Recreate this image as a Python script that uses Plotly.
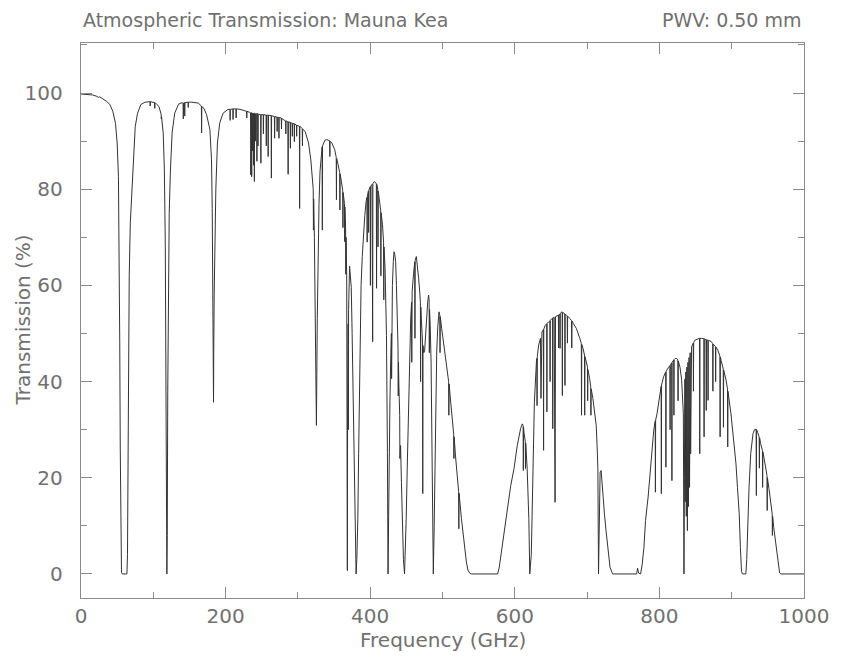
import plotly.graph_objects as go

# ---- Data: (frequency GHz, transmission %) ----
band_0_200 = [
    (0, 99.8), (8, 99.7), (16, 99.6), (22, 99.3), (24, 99.1), (26, 99.2), (30, 98.8), (35, 98.3),
    (40, 97.6), (44, 96.2), (47.7, 93.7), (50, 89.6), (51.8, 82.6), (52.8, 70), (53.6, 48),
    (54.3, 26), (55.2, 8), (56, 0.3), (57, 0), (63.5, 0), (64.3, 4), (65, 20), (65.8, 42),
    (66.7, 62), (68.2, 73), (70.5, 80.5), (72.3, 87.5), (75, 93), (78.2, 95.8), (82.8, 97.6),
    (88.7, 98.1), (95.4, 98.2), (95.7, 97.3), (96, 98.2), (101.6, 98.0), (102, 96.8), (102.4, 98.0),
    (105, 97.6), (107.8, 97.2), (110.8, 95.6), (111.1, 94.6), (111.4, 95.1), (113.7, 91.7),
    (115.3, 84), (116.6, 68), (117.6, 35), (118.3, 8), (118.75, 0), (119.3, 8), (120, 38),
    (121, 62), (122, 75), (123.7, 84), (126, 91.7), (129.6, 95.8), (135, 97.7), (140, 98.0),
    (141.2, 97.9), (141.5, 94.6), (141.8, 97.9), (143.2, 98.0), (143.5, 95.2), (143.8, 98.0),
    (148, 98.1), (148.3, 97.0), (148.6, 98.1), (153.2, 98.1), (158, 98.0), (162.3, 97.9),
    (166.5, 97.3), (166.8, 91.7), (167.1, 97.2), (170, 96.8), (173.7, 95.5), (178.3, 92.4),
    (180.5, 86.1), (181.5, 76), (182.5, 58), (183.0, 46), (183.3, 35.7), (183.6, 46), (184.2, 58),
    (185.2, 68), (186.5, 80), (188.7, 89.6), (191.9, 93.8), (196.5, 95.8), (200, 96.3),
]

band_200_380 = [
    (203.3, 96.6), (206, 96.6), (206.3, 94.3), (206.6, 96.6), (210, 96.7), (210.3, 94.5),
    (210.6, 96.7), (214.3, 96.7), (214.6, 94.8), (214.9, 96.7), (220, 96.6), (226, 96.4),
    (229, 96.2), (229.3, 94.8), (229.6, 96.2), (232.9, 96.0), (234.5, 95.9), (234.8, 83),
    (235.1, 95.9), (235.8, 95.9), (236.1, 82.6), (236.4, 95.9), (237, 95.8), (237.3, 88),
    (237.6, 95.8), (238.3, 95.8), (238.6, 85), (238.9, 95.8), (239.5, 95.8), (239.8, 81.6),
    (240.1, 95.8), (241, 95.7), (241.3, 90), (241.6, 95.7), (243, 95.7), (243.3, 85.8),
    (243.6, 95.7), (244.5, 95.7), (244.8, 89), (245.1, 95.6), (248.5, 95.5), (248.8, 85.4),
    (249.1, 95.5), (252, 95.5), (252.3, 91.5), (252.6, 95.5), (256, 95.4), (256.3, 89),
    (256.6, 95.4), (258.6, 95.4), (258.9, 86.8), (259.2, 95.4), (263, 95.3), (263.3, 82.3),
    (263.6, 95.3), (267.5, 95.1), (267.8, 90.6), (268.1, 95.1), (271, 95.0), (271.3, 92),
    (271.6, 95.0), (273.5, 94.9), (273.8, 90.6), (274.1, 94.9), (277, 94.8), (277.3, 92.5),
    (277.6, 94.7), (280.6, 94.4), (283, 94.2), (283.3, 91.5), (283.6, 94.2), (286.2, 94.0),
    (286.5, 83.1), (286.8, 94.0), (289.3, 93.9), (289.6, 88.5), (289.9, 93.9), (292, 93.7),
    (292.3, 91), (292.6, 93.7), (294.8, 93.6), (295.1, 89.9), (295.4, 93.6), (298, 93.3),
    (298.3, 91), (298.6, 93.3), (302.1, 93.1), (302.4, 76), (302.7, 93.1), (306, 92.6),
    (306.3, 89), (306.6, 92.5), (310.1, 92.0), (312.4, 91), (314.7, 89.6), (317.9, 86.1),
    (320.3, 82), (321.2, 80), (321.5, 71.5), (321.8, 78), (322.8, 70), (324.2, 53.1),
    (325.6, 30.9), (326.8, 53.1), (328.2, 70), (329.2, 77), (330.6, 83.7), (332.9, 88.5),
    (333.5, 88.8), (333.8, 71.5), (334.1, 89), (337.4, 90.2), (340, 90.3), (343.9, 90.1),
    (344.2, 86.8), (344.5, 90.0), (347, 89.6), (349, 88.9), (351, 88.2), (353.0, 86.6),
    (353.3, 77.8), (353.6, 86.4), (355.6, 85.1), (357.8, 83.5), (358.1, 75.7), (358.4, 83.2),
    (360.2, 81.6), (362, 79.7), (362.3, 72), (362.6, 79.3), (364.4, 77), (364.7, 69.1),
    (365, 76.3), (366, 72), (366.3, 62.3), (366.6, 70), (367.5, 62), (368.1, 30), (368.4, 0.7),
    (368.7, 30), (369.5, 52), (369.8, 30), (370.1, 55), (371.5, 64), (372.5, 62.5),
    (373.8, 59.6), (375, 50), (376.1, 39.2), (377.3, 25), (378.3, 11.5), (379.5, 3), (380.5, 0),
]

band_380_620 = [
    (381.5, 3), (382.9, 11.5), (384, 25), (385.2, 39.2), (387.4, 60), (389, 66), (390.6, 70.5),
    (392.5, 74.5), (394.3, 77.4), (395.5, 78.3), (395.8, 69), (396.1, 78.6), (397.5, 79.6),
    (397.8, 71), (398.1, 79.8), (400, 80.5), (400.3, 60), (400.6, 80.6), (402.5, 81),
    (402.8, 66), (403.1, 81), (403.4, 48.3), (403.7, 81.2), (405.6, 81.6), (407.9, 81.3),
    (408.5, 81.1), (408.8, 59.4), (409.1, 81), (410.5, 80), (410.8, 68), (411.1, 79.6),
    (412.4, 78.1), (414.5, 75.6), (414.8, 62), (415.1, 75.1), (417, 72.6), (418.5, 69),
    (418.8, 57), (419.1, 68), (420.6, 63.5), (422.5, 49.6), (423.8, 25.3), (424.7, 0),
    (425.5, 12), (426.1, 25.3), (427.3, 36), (428.4, 44.8), (429.3, 50), (429.6, 40.6),
    (429.9, 52), (430.7, 60), (432, 65), (432.9, 67), (434, 66.5), (435.2, 64.9), (436.3, 60),
    (437.5, 53.1), (438.5, 47), (438.8, 37), (439.1, 44), (439.7, 39.2), (440.8, 33),
    (441.1, 24), (441.4, 31), (442, 26.7), (443.2, 19), (444.3, 11.5), (446, 3), (447.5, 0),
    (448.6, 4), (449.8, 11.5), (451.2, 22), (452.5, 32.3), (454.3, 46.2), (456, 53),
    (457.2, 56.5), (457.5, 44), (457.8, 57), (458, 58.7), (460, 62.5), (461.6, 64.9),
    (461.9, 49), (462.2, 65.2), (463.8, 66), (465.2, 64.3), (467, 61.5), (468.8, 58),
    (469.4, 56.5), (469.7, 40), (470, 55.5), (470.7, 53.1), (471.8, 50), (472.4, 48),
    (472.7, 16.7), (473, 47.5), (474, 46), (475.2, 46.2), (476.8, 51), (478.4, 54.5),
    (479.5, 56.5), (480.7, 58), (481.5, 57), (481.8, 46), (482.1, 55), (483, 51.7),
    (484.2, 44), (485.3, 32.3), (486.3, 15), (487.3, 0), (488.5, 10), (489.8, 25.3), (491, 37),
    (492, 46.2), (493.5, 51.5), (495.2, 54.5), (496.3, 53.8), (496.6, 46), (496.9, 53.5),
    (498.9, 51), (501, 48.8), (503.4, 46.2), (505.5, 43.7), (508, 40.6), (508.5, 40),
    (508.8, 33), (509.1, 39.5), (511.5, 35.5), (514.8, 30.2), (515.5, 29), (515.8, 24),
    (516.1, 28.5), (518, 24.5), (521.6, 18.4), (522.3, 17.2), (522.6, 9.4), (522.9, 16.8),
    (526.2, 11.5), (528.5, 8), (530.7, 5.5), (533, 2.5), (535.2, 0.8), (538, 0.1), (539.8, 0),
    (576.2, 0), (578.3, 1.2), (580.7, 4), (585.3, 9.4), (589.8, 13.5), (594.4, 18.4),
    (598.9, 21.9), (603.4, 26.7), (606, 28.8), (608, 30.2), (610.3, 31.2), (611.5, 30.9),
    (611.8, 21.5), (612.1, 30.5), (612.6, 29.5), (614.5, 27.6), (614.8, 21.9), (615.1, 27.2),
    (617.1, 21.9), (619.4, 11.5), (620.7, 0),
]

band_620_1000 = [
    (622.8, 4), (623.9, 12), (625.3, 26), (626.5, 33), (627.1, 35.7), (629.9, 44.1),
    (630.5, 44.8), (630.8, 35), (631.1, 45.2), (633, 47.6), (635.5, 49), (636.2, 36.5),
    (636.8, 49.3), (637.5, 50.3), (639.5, 50.8), (639.8, 25.7), (640.1, 50.9), (642.1, 51.7),
    (644.1, 52), (644.4, 33.7), (644.7, 52.1), (646.7, 52.4), (648.5, 52.6), (648.8, 40),
    (649.1, 52.7), (651.2, 53.1), (652.2, 53.2), (652.5, 30.2), (652.8, 53.2), (654.5, 53.4),
    (654.8, 42), (655.1, 53.4), (655.7, 14.9), (656.3, 53.5), (658, 53.6), (660.3, 53.8),
    (660.6, 47), (660.9, 53.9), (662.3, 54), (662.6, 46.9), (662.9, 54.1), (664.8, 54.5),
    (665.5, 54.4), (665.8, 37.1), (666.1, 54.4), (669.1, 54.1), (669.4, 39.2), (669.7, 54.0),
    (671.6, 53.8), (672.5, 53.7), (672.8, 48), (673.1, 53.6), (676.2, 53.1), (678.5, 52.7),
    (678.8, 47), (679.1, 52.6), (680.8, 52.1), (685.3, 51), (689.9, 49), (692, 47.9),
    (692.3, 33), (692.6, 47.7), (694.4, 46.9), (696.4, 45.5), (696.7, 33), (697, 45.2),
    (698.9, 44.1), (700.5, 43), (700.8, 36), (701.1, 42.5), (703.5, 40.6), (705, 39),
    (705.3, 33), (705.6, 38.5), (708, 36.5), (710, 33.5), (712.6, 30.9), (714, 26), (714.9, 22),
    (715.8, 0), (716.5, 10), (717.2, 20.8), (718, 21.2), (719.4, 21.5), (720.5, 19),
    (721.7, 16.7), (724, 12.5), (726.2, 9), (728.5, 5.5), (731.7, 1.4), (735.3, 0),
    (768.5, 0), (769.8, 1.2), (771.2, 0.2), (774, 0), (776.3, 2.1), (778.6, 5.5), (780.8, 11.1),
    (784.4, 16), (787.6, 22.2), (790, 26.5), (792.2, 29.9), (794.2, 31.8), (794.5, 17),
    (794.8, 32), (796.7, 33.3), (799, 35.9), (801.2, 38.2), (802.4, 39), (802.7, 16.7),
    (803, 39.3), (805.8, 41), (808.7, 42), (809, 22.2), (809.3, 42.1), (812.7, 43),
    (814.5, 43.3), (814.8, 30), (815.1, 43.4), (817, 43.9), (817.3, 19.4), (817.6, 44),
    (819.8, 44.5), (820.1, 33), (820.4, 44.6), (821.7, 44.8), (824, 44.8), (825.5, 44.5),
    (825.8, 36), (826.1, 44.3), (828.5, 43), (830.8, 40.3), (833.1, 33.3), (834, 0),
    (834.6, 20), (835.3, 40.5), (835.8, 15), (836.5, 42), (837.2, 12), (838, 43), (838.7, 9),
    (839.5, 44), (840.2, 14), (841, 45), (841.7, 18), (842.5, 46), (843.2, 25), (844.5, 47.2),
    (846.8, 48), (847.1, 38), (847.4, 48.1), (849, 48.6), (853.6, 49), (855.5, 49),
    (855.8, 25), (856.1, 49), (858, 49), (861.5, 48.9), (861.8, 28.5), (862.1, 48.9),
    (864.5, 48.7), (864.8, 34), (865.1, 48.7), (867, 48.6), (867.3, 36.1), (867.6, 48.6),
    (871.8, 48.3), (873.7, 47.9), (874, 38), (874.3, 47.8), (877.5, 47.3), (877.8, 40),
    (878.1, 47.2), (880.9, 46.5), (883.7, 45.3), (884, 28.5), (884.3, 45.1), (885.4, 44.4),
    (888.3, 42.6), (888.6, 30.5), (888.9, 42.4), (892.2, 40.3), (894.2, 38.5), (894.5, 26.4),
    (894.8, 38), (899, 33.3), (902, 28.9), (905.9, 22.9), (908, 18), (910.4, 12.5), (912, 5.5),
    (913.6, 0.5), (915, 0), (919.6, 0), (920.8, 3), (921.8, 8.3), (924, 18), (926.3, 25),
    (929.5, 29.2), (931.5, 30), (933.2, 30.2), (933.8, 30.1), (934.1, 16.3), (934.4, 30),
    (936, 29.4), (938, 28.5), (938.3, 22), (938.6, 28.3), (940, 27.1), (942.5, 25.7),
    (942.8, 18), (943.1, 25.4), (944.5, 24.3), (947, 22.2), (948.8, 20.5), (949.1, 13.2),
    (949.4, 20), (951.5, 17.8), (953.6, 15.3), (956, 12.5), (956.3, 8), (956.6, 12),
    (958.1, 9.7), (960.5, 6.8), (962.7, 4.2), (964.5, 1.8), (966.3, 0.2), (968, 0), (1000, 0),
]

x_tick_values = [0, 200, 400, 600, 800, 1000]
y_tick_values = [0, 20, 40, 60, 80, 100]

title_left = "Atmospheric Transmission: Mauna Kea"
title_right = "PWV: 0.50 mm"
x_title = "Frequency (GHz)"
y_title = "Transmission (%)"

points = band_0_200 + band_200_380 + band_380_620 + band_620_1000
freq = [p[0] for p in points]
trans = [p[1] for p in points]

FONT = "DejaVu Sans"
TXT = "#707070"
AX = "#8a8a8a"

fig = go.Figure()
fig.add_trace(go.Scatter(x=freq, y=trans, mode="lines",
                         line=dict(color="#333333", width=1), hoverinfo="skip",
                         showlegend=False))

axis_common = dict(
    ticks="inside", ticklen=11, tickwidth=1.2, tickcolor=AX,
    showline=True, linecolor=AX, linewidth=1.4, mirror="allticks",
    showgrid=False, zeroline=False,
    tickfont=dict(family=FONT, size=20, color=TXT),
)

# The page body adds an 8 px offset, so the figure is sized 8 px smaller.
fig.update_layout(
    width=833, height=651,
    margin=dict(l=73, r=27, t=35, b=61),
    paper_bgcolor="white", plot_bgcolor="white",
    font=dict(family=FONT, size=20, color=TXT),
    xaxis=dict(range=[0, 1000], tickvals=x_tick_values,
               minor=dict(dtick=100, ticks="inside", ticklen=6, tickcolor=AX, tickwidth=1.2),
               ticklabelstandoff=0, **axis_common),
    yaxis=dict(range=[-5, 110.4], tickvals=y_tick_values,
               minor=dict(dtick=10, ticks="inside", ticklen=6, tickcolor=AX, tickwidth=1.2),
               ticklabelstandoff=13, **axis_common),
    annotations=[
        dict(text=title_left, xref="paper", yref="paper", x=0, y=1, xanchor="left",
             yanchor="bottom", yshift=10, showarrow=False,
             font=dict(family=FONT, size=19, color=TXT)),
        dict(text=title_right, xref="paper", yref="paper", x=1, y=1, xanchor="right",
             yanchor="bottom", yshift=10, showarrow=False,
             font=dict(family=FONT, size=19, color=TXT)),
        dict(text=x_title, xref="paper", yref="paper", x=0.5, y=0, xanchor="center",
             yanchor="middle", yshift=-42, showarrow=False,
             font=dict(family=FONT, size=20, color=TXT)),
        dict(text=y_title, xref="paper", yref="paper", x=0, y=0.5, xanchor="center",
             yanchor="middle", xshift=-59, textangle=-90, showarrow=False,
             font=dict(family=FONT, size=20, color=TXT)),
    ],
)

fig.write_html("out.html")
